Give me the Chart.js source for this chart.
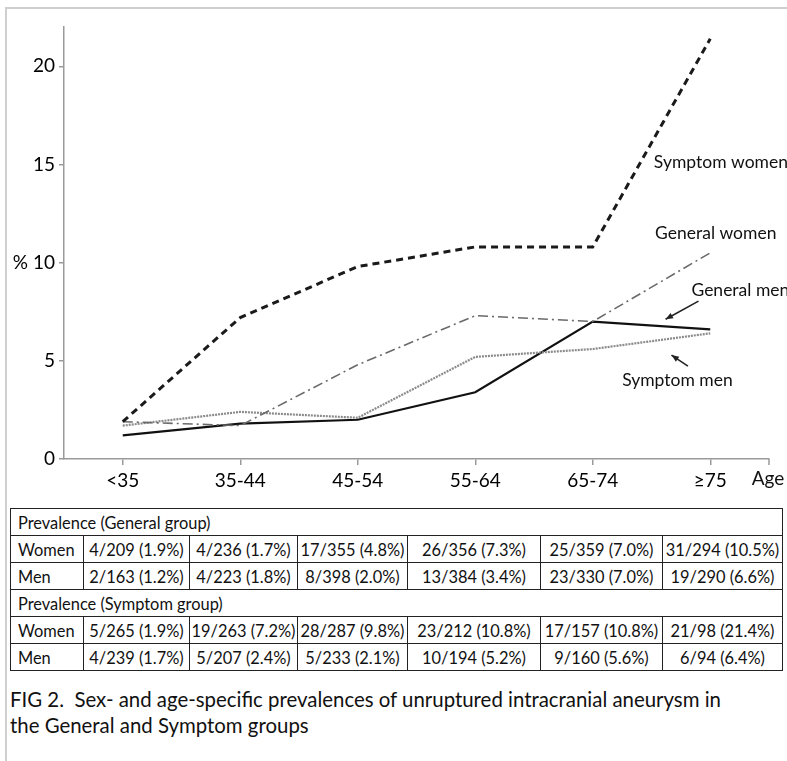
<!DOCTYPE html>
<html>
<head>
<meta charset="utf-8">
<script src="https://cdn.jsdelivr.net/npm/chart.js@4/dist/chart.umd.min.js"></script>
<style>
    body { margin: 0; background: #fff; font-family: Lato, "Open Sans", sans-serif; color: #111; }
    .frame { position: absolute; left: 5px; top: 7px; width: 800px; height: 800px; border-left: 2px solid #cfcfcf; border-top: 2px solid #cfcfcf; }
    #prev-chart { position: absolute; left: 0; top: 0; }
    table { position: absolute; left: 10px; top: 508px; width: 772px; border-collapse: collapse; table-layout: fixed; font-size: 16.4px; }
    td { border: 1.5px solid #222; height: 26px; padding: 0; text-align: center; white-space: nowrap; }
    td.lab { text-align: left; padding-left: 7px; }
    .caption { position: absolute; left: 10px; top: 686px; font-size: 20.4px; line-height: 26px; color: #111; white-space: nowrap; }
</style>
</head>
<body>
<div class="frame"></div>
<canvas id="prev-chart" width="787" height="500"></canvas>

<table id="prev-table">
    <colgroup>
        <col style="width:73px"><col style="width:106px"><col style="width:108px"><col style="width:110px">
        <col style="width:133px"><col style="width:122px"><col style="width:120px">
    </colgroup>
    <tbody></tbody>
</table>

<div class="caption">FIG 2.&nbsp; Sex- and age-specific prevalences of unruptured intracranial aneurysm in<br>the General and Symptom groups</div>

<script>
// Data =========================================================//

const ageGroups = ['<35', '35-44', '45-54', '55-64', '65-74', '≥75'];

const generalWomen = [1.9, 1.7, 4.8, 7.3, 7.0, 10.5];
const generalMen = [1.2, 1.8, 2.0, 3.4, 7.0, 6.6];
const symptomWomen = [1.9, 7.2, 9.8, 10.8, 10.8, 21.4];
const symptomMen = [1.7, 2.4, 2.1, 5.2, 5.6, 6.4];

const generalWomenCounts = ['4/209', '4/236', '17/355', '26/356', '25/359', '31/294'];
const generalMenCounts = ['2/163', '4/223', '8/398', '13/384', '23/330', '19/290'];
const symptomWomenCounts = ['5/265', '19/263', '28/287', '23/212', '17/157', '21/98'];
const symptomMenCounts = ['4/239', '5/207', '5/233', '10/194', '9/160', '6/94'];

const yTicks = [0, 5, 10, 15, 20];

// Data =========================================================//


// Table =========================================================//

const tbody = document.querySelector('#prev-table tbody');

function addHeader(text) {
    const tr = document.createElement('tr');
    tr.innerHTML = '<td class="lab" colspan="7">' + text + '</td>';
    tbody.appendChild(tr);
}

function addRow(label, counts, values) {
    const tr = document.createElement('tr');
    let html = '<td class="lab">' + label + '</td>';
    counts.forEach((c, i) => {
        html += '<td>' + c + ' (' + values[i].toFixed(1) + '%)</td>';
    });
    tr.innerHTML = html;
    tbody.appendChild(tr);
}

addHeader('Prevalence (General group)');
addRow('Women', generalWomenCounts, generalWomen);
addRow('Men', generalMenCounts, generalMen);
addHeader('Prevalence (Symptom group)');
addRow('Women', symptomWomenCounts, symptomWomen);
addRow('Men', symptomMenCounts, symptomMen);

// Table =========================================================//


// Chart =========================================================//

const FONT = "Lato, 'Open Sans', sans-serif";
const AXIS_COLOR = '#9a9a9a';

// labels + arrows drawn next to the lines, placed in data units
const annotations = {
    id: 'annotations',
    afterDatasetsDraw(chart) {
        const { ctx, scales: { x, y }, chartArea } = chart;
        ctx.save();
        ctx.fillStyle = '#111';
        ctx.font = '17.5px ' + FONT;
        ctx.textBaseline = 'middle';
        ctx.textAlign = 'left';

        ctx.fillText('Symptom women', x.getPixelForValue(4.52), y.getPixelForValue(15.1));
        ctx.fillText('General women', x.getPixelForValue(4.53), y.getPixelForValue(11.5));
        ctx.fillText('General men', x.getPixelForValue(4.84), y.getPixelForValue(8.6));
        ctx.fillText('Symptom men', x.getPixelForValue(4.25), y.getPixelForValue(4.0));

        const arrow = (x1, y1, x2, y2) => {
            const px1 = x.getPixelForValue(x1), py1 = y.getPixelForValue(y1);
            const px2 = x.getPixelForValue(x2), py2 = y.getPixelForValue(y2);
            const a = Math.atan2(py2 - py1, px2 - px1);
            ctx.strokeStyle = '#222';
            ctx.lineWidth = 1.6;
            ctx.beginPath();
            ctx.moveTo(px1, py1);
            ctx.lineTo(px2, py2);
            ctx.stroke();
            ctx.beginPath();
            ctx.moveTo(px2, py2);
            ctx.lineTo(px2 - 8 * Math.cos(a - 0.4), py2 - 8 * Math.sin(a - 0.4));
            ctx.lineTo(px2 - 8 * Math.cos(a + 0.4), py2 - 8 * Math.sin(a + 0.4));
            ctx.closePath();
            ctx.fillStyle = '#222';
            ctx.fill();
        };
        arrow(4.90, 8.04, 4.62, 7.12);
        arrow(4.81, 4.73, 4.67, 5.29);

        // end tick of the x axis and the "Age" title
        ctx.strokeStyle = AXIS_COLOR;
        ctx.lineWidth = 1.5;
        ctx.beginPath();
        ctx.moveTo(chartArea.right, chartArea.bottom);
        ctx.lineTo(chartArea.right, chartArea.bottom + 6);
        ctx.stroke();
        ctx.fillStyle = '#111';
        ctx.font = '19px ' + FONT;
        ctx.textAlign = 'center';
        ctx.fillText('Age', chartArea.right - 1, chartArea.bottom + 20);
        ctx.restore();
    }
};

const prevCanvas = document.getElementById('prev-chart');

const prevData = {
    labels: ageGroups,
    datasets: [
        {
            label: 'Symptom women',
            data: symptomWomen,
            borderColor: '#1a1a1a',
            borderWidth: 3,
            borderDash: [7, 5],
        },
        {
            label: 'General women',
            data: generalWomen,
            borderColor: '#6a6a6a',
            borderWidth: 1.6,
            borderDash: [10, 4, 2, 4],
        },
        {
            label: 'Symptom men',
            data: symptomMen,
            borderColor: '#8a8a8a',
            borderWidth: 2.2,
            borderDash: [2, 1],
        },
        {
            label: 'General men',
            data: generalMen,
            borderColor: '#111',
            borderWidth: 2.2,
        }
    ]
};

const prevConfig = {
    type: 'line',
    data: prevData,
    options: {
        responsive: false,
        animation: false,
        layout: { padding: { top: 27, right: 18, left: 0, bottom: 0 } },
        elements: {
            line: { tension: 0, fill: false },
            point: { radius: 0, hoverRadius: 0 }
        },
        plugins: {
            legend: { display: false },
            tooltip: { enabled: false }
        },
        scales: {
            x: {
                offset: true,
                afterFit: (s) => { s.height = 41; },
                border: { display: true, color: AXIS_COLOR, width: 1.5 },
                grid: {
                    offset: false,
                    drawOnChartArea: false,
                    drawTicks: true,
                    tickLength: 6,
                    color: AXIS_COLOR,
                    lineWidth: 1.5
                },
                ticks: {
                    color: '#000',
                    padding: 4,
                    maxRotation: 0,
                    font: { family: FONT, size: 19 }
                }
            },
            y: {
                min: 0,
                max: 22,
                afterFit: (s) => { s.width = 64; },
                afterBuildTicks: (s) => { s.ticks = yTicks.map(v => ({ value: v })); },
                border: { display: true, color: AXIS_COLOR, width: 1.5 },
                grid: {
                    drawOnChartArea: false,
                    drawTicks: true,
                    tickLength: 5,
                    color: AXIS_COLOR,
                    lineWidth: 1.5
                },
                ticks: {
                    color: '#000',
                    padding: 4,
                    font: { family: FONT, size: 19 },
                    callback: (v) => (v === 10 ? '% 10' : String(v))
                }
            }
        }
    },
    plugins: [annotations]
};

const prevChart = new Chart(prevCanvas, prevConfig);

// Chart =========================================================//
</script>
</body>
</html>
